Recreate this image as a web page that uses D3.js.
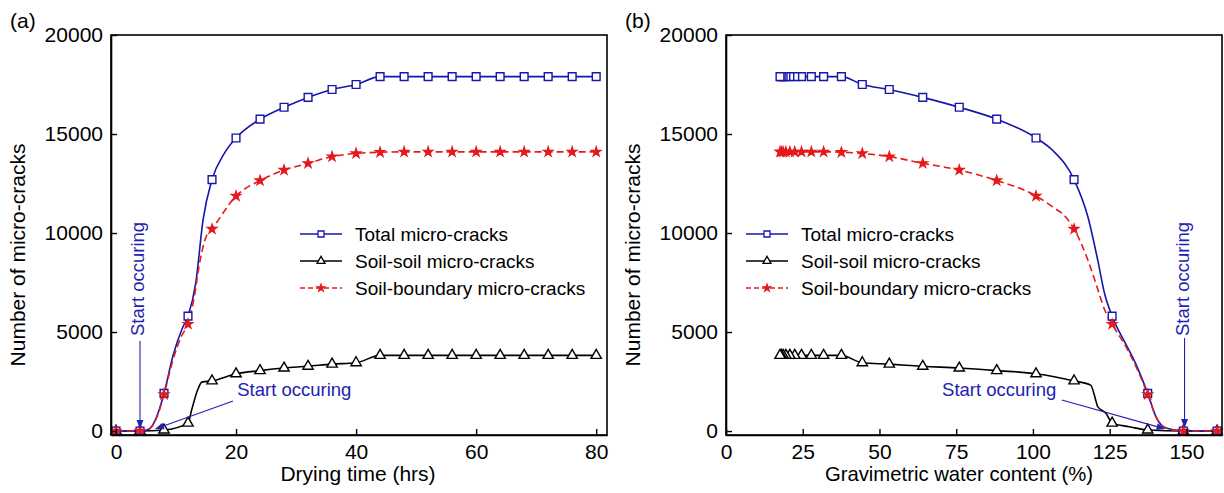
<!DOCTYPE html>
<html>
<head>
<meta charset="utf-8">
<script src="https://cdn.jsdelivr.net/npm/d3@7"></script>
<style>
  body { margin: 0; background: #fff; }
  svg text { font-family: "Liberation Sans", Arial, Helvetica, sans-serif; }
</style>
</head>
<body>
<svg id="chart" width="1224" height="493"></svg>
<script>
/* ---------------- data ---------------- */
const dryTime = [0, 4, 8, 12, 16, 20, 24, 28, 32, 36, 40, 44, 48, 52, 56, 60, 64, 68, 72, 76, 80];
const waterContent = [160, 149, 137.4, 125.8, 113.4, 101, 88.2, 76, 64.1, 53.2, 44.4, 37.6, 31.8, 27.8, 24.6, 22.4, 20.8, 19.5, 18.6, 18.0, 17.6];

const totalCracks = [0, 0, 1900, 5800, 12700, 14800, 15750, 16350, 16850, 17250, 17500, 17900, 17900, 17900, 17900, 17900, 17900, 17900, 17900, 17900, 17900];
const soilCracks = [0, 0, 50, 400, 2530, 2890, 3050, 3180, 3270, 3380, 3450, 3820, 3820, 3820, 3820, 3820, 3820, 3820, 3820, 3820, 3820];
const boundaryCracks = [0, 0, 1850, 5400, 10200, 11870, 12650, 13180, 13520, 13860, 14020, 14080, 14100, 14100, 14100, 14100, 14100, 14100, 14100, 14100, 14100];

// points read along the curves between the markers (x, value)
const totalCurveA = [[5, 30], [6, 250], [7, 900], [9.5, 3800], [11, 5150], [13.3, 7500], [14.5, 10650], [18, 14000]];
const soilCurveA = [[12.6, 1060], [13.6, 2070], [14.3, 2470]];
const boundaryCurveA = [[5, 30], [6, 230], [7, 850], [9.5, 3600], [11, 4850], [13, 6700], [14, 8600], [15, 9800]];

const totalCurveB = [[143.4, 150], [140.1, 720], [133.4, 3430], [130.1, 4440], [123.3, 6970], [121.1, 8640], [117.9, 10820], [106.3, 14190]];
const soilCurveB = [[131.4, 220], [123.8, 900], [121.1, 1230], [120.6, 1480], [118.8, 2320]];
const boundaryCurveB = [[143.4, 150], [140.1, 700], [130.9, 4090], [123.4, 6110], [121.2, 7120], [117.9, 8640], [110.6, 10820], [106.3, 11330]];

const yTicks = [0, 5000, 10000, 15000, 20000];
const timeTicks = [0, 20, 40, 60, 80];
const waterTicks = [0, 25, 50, 75, 100, 125, 150];
const legendLabels = ["Total micro-cracks", "Soil-soil micro-cracks", "Soil-boundary micro-cracks"];

// annotations in data units: text position, arrow tail, arrow tip
const notesA = [
  { vertical: true,  text: [4.7, 4800],  tail: [4, 4550],  tip: [4, 100] },
  { vertical: false, text: [20.2, 1770], tail: [19.5, 1515], tip: [6.5, 100] }
];
const notesB = [
  { vertical: true,  text: [151, 4800],  tail: [149.4, 4700], tip: [149.4, 150] },
  { vertical: false, text: [70.4, 1770], tail: [109.4, 1565], tip: [143.2, 100] }
];

/* ---------------- styles ---------------- */
const BLUE = "#1616aa";
const RED = "#e41a1c";
const NOTE = "#2222b0";

const svg = d3.select("#chart");
const plotTop = 35, plotBottom = 435;

function mergeCurve(xs, vals, extra) {
  const pts = xs.map((d, i) => [d, vals[i]]).concat(extra);
  return pts.sort((a, b) => a[0] - b[0]);
}

function drawPanel(p) {
  const x = d3.scaleLinear().domain(p.xDomain).range([p.left, p.right]);
  const y = d3.scaleLinear().domain([-200, 20000]).range([plotBottom, plotTop]);
  const g = svg.append("g");

  const series = [
    { vals: soilCracks, extra: p.soilCurve, color: "#000", dash: null, symbol: d3.symbolTriangle, fill: "#fff", size: 46 },
    { vals: totalCracks, extra: p.totalCurve, color: BLUE, dash: null, symbol: d3.symbolSquare, fill: "#fff", size: 60 },
    { vals: boundaryCracks, extra: p.boundaryCurve, color: RED, dash: "7,4", symbol: d3.symbolStar, fill: RED, size: 26 }
  ];

  const line = d3.line()
    .x(d => x(d[0]))
    .y(d => y(d[1]))
    .curve(d3.curveMonotoneX);

  series.forEach(s => {
    g.append("path")
      .datum(mergeCurve(p.xs, s.vals, s.extra))
      .attr("d", line)
      .attr("fill", "none")
      .attr("stroke", s.color)
      .attr("stroke-width", 1.6)
      .attr("stroke-dasharray", s.dash);
  });

  series.forEach(s => {
    g.selectAll(null)
      .data(p.xs.map((d, i) => [d, s.vals[i]]))
      .enter().append("path")
      .attr("d", d3.symbol().type(s.symbol).size(s.size))
      .attr("transform", d => `translate(${x(d[0])},${y(d[1])})`)
      .attr("fill", s.fill)
      .attr("stroke", s.color)
      .attr("stroke-width", 1.4);
  });

  // frame
  g.append("rect")
    .attr("x", p.left).attr("y", plotTop)
    .attr("width", p.right - p.left).attr("height", plotBottom - plotTop)
    .attr("fill", "none").attr("stroke", "#000").attr("stroke-width", 1.6);

  const xAxis = g.append("g")
    .attr("transform", `translate(0,${plotBottom})`)
    .call(d3.axisBottom(x).tickValues(p.ticks).tickSizeInner(-6).tickSizeOuter(0).tickPadding(9));
  const yAxis = g.append("g")
    .attr("transform", `translate(${p.left},0)`)
    .call(d3.axisLeft(y).tickValues(yTicks).tickFormat(d3.format("d")).tickSizeInner(-6).tickSizeOuter(0).tickPadding(8));
  [xAxis, yAxis].forEach(a => {
    a.select(".domain").attr("stroke-width", 1.6);
    a.selectAll(".tick line").attr("stroke-width", 1.4);
    a.selectAll("text").attr("font-size", 21).attr("fill", "#000")
      .style("font-family", '"Liberation Sans", Arial, sans-serif');
  });

  // titles
  g.append("text")
    .attr("x", (p.left + p.right) / 2 + p.titleShift).attr("y", 481)
    .attr("text-anchor", "middle").attr("font-size", p.titleSize)
    .text(p.xTitle);
  g.append("text")
    .attr("transform", `translate(${p.left - 86},${(plotTop + plotBottom) / 2 + 20}) rotate(-90)`)
    .attr("text-anchor", "middle").attr("font-size", 21)
    .text("Number of micro-cracks");
  g.append("text")
    .attr("x", p.left - 101).attr("y", 28)
    .attr("font-size", 21)
    .text(p.label);

  // legend
  const legendOrder = [series[1], series[0], series[2]];
  legendOrder.forEach((s, i) => {
    const ly = 234 + i * 27;
    g.append("line")
      .attr("x1", p.legendX).attr("x2", p.legendX + 42)
      .attr("y1", ly).attr("y2", ly)
      .attr("stroke", s.color).attr("stroke-width", 1.6)
      .attr("stroke-dasharray", s.dash ? "5,3" : null);
    g.append("path")
      .attr("d", d3.symbol().type(s.symbol).size(s.size * 0.6))
      .attr("transform", `translate(${p.legendX + 21},${ly})`)
      .attr("fill", s.fill).attr("stroke", s.color).attr("stroke-width", 1.3);
    g.append("text")
      .attr("x", p.legendX + 55).attr("y", ly + 6.5)
      .attr("font-size", 19)
      .text(legendLabels[i]);
  });

  // "Start occuring" notes
  p.notes.forEach(n => {
    const x1 = x(n.tail[0]), y1 = y(n.tail[1]);
    const x2 = x(n.tip[0]), y2 = y(n.tip[1]);
    const ang = Math.atan2(y2 - y1, x2 - x1);
    const hl = 9, hw = 3.5;
    const bx = x2 - hl * Math.cos(ang), by = y2 - hl * Math.sin(ang);
    g.append("line")
      .attr("x1", x1).attr("y1", y1).attr("x2", bx).attr("y2", by)
      .attr("stroke", NOTE).attr("stroke-width", 1.1);
    g.append("path")
      .attr("d", `M${x2},${y2}L${bx - hw * Math.sin(ang)},${by + hw * Math.cos(ang)}L${bx + hw * Math.sin(ang)},${by - hw * Math.cos(ang)}Z`)
      .attr("fill", NOTE);
    const t = g.append("text")
      .attr("font-size", 18.5)
      .attr("fill", NOTE)
      .text("Start occuring");
    if (n.vertical) {
      t.attr("transform", `translate(${x(n.text[0])},${y(n.text[1])}) rotate(-90)`);
    } else {
      t.attr("x", x(n.text[0])).attr("y", y(n.text[1]));
    }
  });
}

drawPanel({
  left: 111, right: 607, xDomain: [-0.83, 81.8], xs: dryTime, ticks: timeTicks,
  totalCurve: totalCurveA, soilCurve: soilCurveA, boundaryCurve: boundaryCurveA,
  xTitle: "Drying time (hrs)", titleShift: -1, titleSize: 21, label: "(a)", legendX: 300, notes: notesA
});
drawPanel({
  left: 726, right: 1222, xDomain: [0, 161.6], xs: waterContent, ticks: waterTicks,
  totalCurve: totalCurveB, soilCurve: soilCurveB, boundaryCurve: boundaryCurveB,
  xTitle: "Gravimetric water content (%)", titleShift: -15, titleSize: 20.3, label: "(b)", legendX: 746, notes: notesB
});
</script>
</body>
</html>
